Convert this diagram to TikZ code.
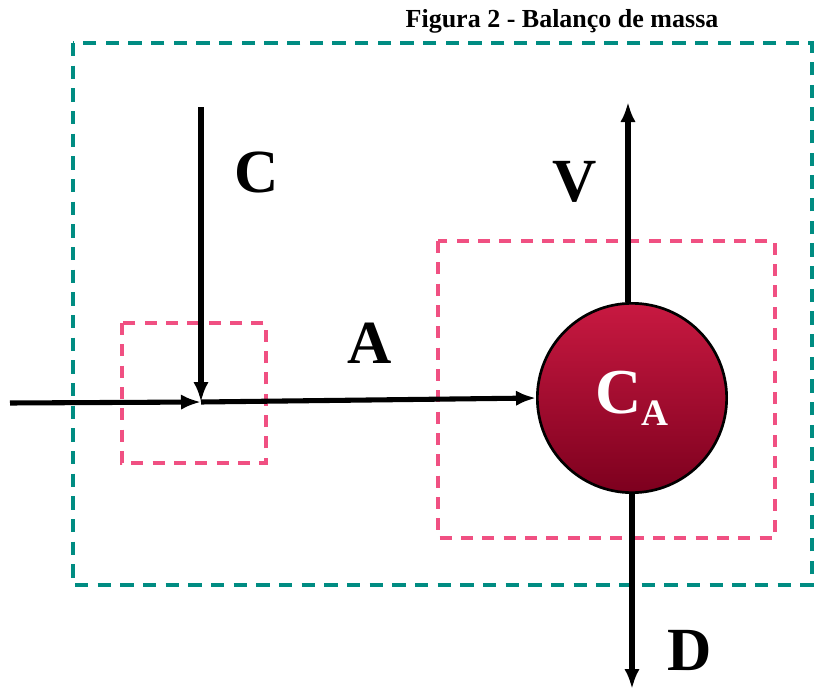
\documentclass[tikz,border=0pt]{standalone}
\usepackage{fontspec}
\setmainfont{Liberation Serif}
\usetikzlibrary{arrows.meta}
\definecolor{tealbox}{RGB}{0,140,130}
\definecolor{pinkbox}{RGB}{240,80,130}
\definecolor{ballTop}{RGB}{200,25,65}
\definecolor{ballBot}{RGB}{125,0,30}
\tikzset{
  flow/.style={line width=3.8pt,-{Latex[length=15pt,width=11.5pt]}},
  outerbox/.style={draw=tealbox,line width=2.4pt,dash pattern=on 10pt off 7pt},
  innerbox/.style={draw=pinkbox,line width=2.4pt,dash pattern=on 9pt off 7pt},
  lbl/.style={font=\bfseries\fontsize{46}{50}\selectfont}
}
\begin{document}
\begin{tikzpicture}[x=0.75pt,y=-0.75pt]
\useasboundingbox (0,0) rectangle (819,689);
\node[font=\bfseries\fontsize{19.5}{22}\selectfont] (title) at (562,21) {Figura 2 - Balanço de massa};
\draw[outerbox] (73,43) rectangle (812,585);
\draw[innerbox] (122,323) rectangle (266,463);
\draw[innerbox] (438,241) rectangle (775,538);
\node[circle,draw=black,line width=2pt,minimum size=142pt,inner sep=0pt,
  top color=ballTop,bottom color=ballBot] (ca) at (632,398)
  {\textcolor{white}{\bfseries\fontsize{48}{52}\selectfont C\raisebox{-9pt}{\fontsize{28}{30}\selectfont A}}};
\coordinate (inL) at (10,403);
\coordinate (mix) at (201,402);
\coordinate (cTop) at (201,107);
\coordinate (vTop) at (628,102);
\coordinate (dBot) at (632,689);
\draw[flow] (inL) -- (mix);
\draw[flow] (cTop) -- (mix);
\draw[flow] (mix) -- (ca.west);
\draw[flow] (ca.north -| vTop) -- (vTop);
\draw[flow] (ca.south) -- (dBot);
\node[lbl] (lC) at (257,172) {C};
\node[lbl] (lV) at (575,182) {V};
\node[lbl] (lA) at (370,343) {A};
\node[lbl] (lD) at (690,650) {D};
\end{tikzpicture}
\end{document}
